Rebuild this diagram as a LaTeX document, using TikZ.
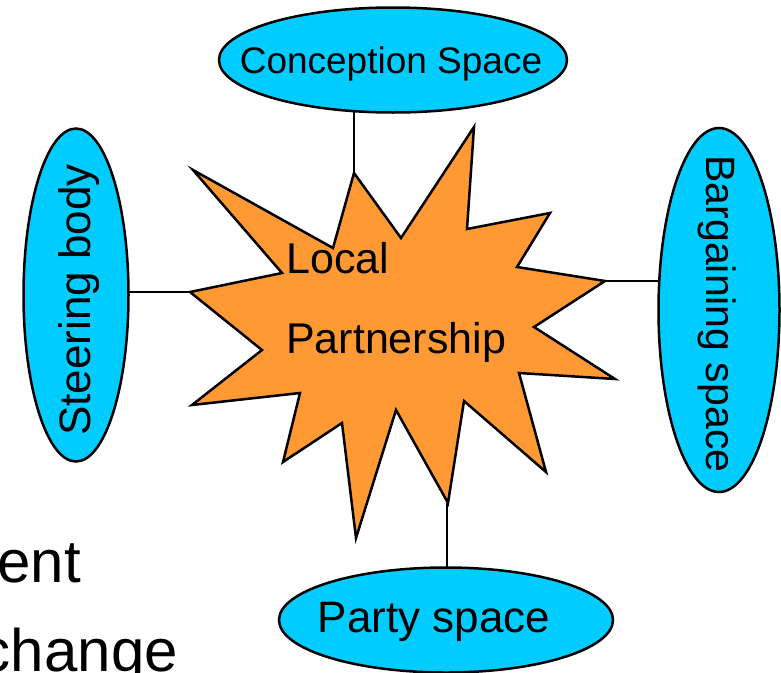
\documentclass[tikz,border=0pt]{standalone}
\usepackage{fontspec}
\setmainfont{Liberation Sans}
\usetikzlibrary{shapes.geometric,backgrounds}
\definecolor{spacecyan}{HTML}{00CCFF}
\definecolor{starorange}{HTML}{FF9933}
\begin{document}
\begin{tikzpicture}[x=1pt,y=-1pt,
  space/.style={ellipse,draw=black,line width=2.5pt,fill=spacecyan,inner sep=0pt},
  starshape/.style={draw=black,line width=2.5pt,fill=starorange,line join=miter},
  link/.style={draw=black,line width=2.6pt},
  bigtxt/.style={inner sep=0pt,text=black}]
\useasboundingbox (0,0) rectangle (781,672);
\clip (0,0) rectangle (781,672);

% spaces
\node[space,minimum width=348pt,minimum height=105pt] (concept) at (393,60) {};
\node[bigtxt,font=\fontsize{37}{44}\selectfont] (conceptT) at (391,64) {Conception Space};
\node[space,minimum width=105pt,minimum height=333pt] (steer) at (76,295) {};
\node[bigtxt,font=\fontsize{44}{52}\selectfont,rotate=90] (steerT) at (79,300) {Steering body};
\node[space,minimum width=121pt,minimum height=364pt] (barg) at (719,310) {};
\node[bigtxt,font=\fontsize{41}{48}\selectfont,rotate=-90] (bargT) at (717,314) {Bargaining space};
\node[space,minimum width=334pt,minimum height=105pt] (party) at (446,620) {};
\node[bigtxt,font=\fontsize{44}{52}\selectfont] (partyT) at (434,622) {Party space};

% star
\path[starshape] (193,170) -- (333,248) -- (354,173) coordinate (tipT) -- (401,238) -- (474,127)
  -- (467,229) -- (550,213) -- (517,267) -- (605,281) coordinate (tipR) -- (534,327)
  -- (615,379) -- (519,373) -- (546,472) -- (464,401) -- (448,503) coordinate (tipB)
  -- (396,410) -- (356,538) -- (342,423) -- (283,462) -- (300,393) -- (192,405)
  -- (262,350) -- (190,292) coordinate (tipL) -- (282,273) -- cycle;

\node[bigtxt,anchor=base west,font=\fontsize{43}{50}\selectfont] (local) at (286,273) {Local};
\node[bigtxt,anchor=base west,font=\fontsize{43}{50}\selectfont] (partner) at (286,353) {Partnership};

% connectors (behind shapes)
\begin{pgfonlayer}{background}
\draw[link] (tipT) -- (tipT |- concept.center);
\draw[link] (tipL) -- (tipL -| steer.center);
\draw[link] (tipR) -- (tipR -| barg.center);
\draw[link] ([xshift=-1pt]tipB) -- ([xshift=-1pt]tipB |- party.center);
\end{pgfonlayer}

% cut-off slide text
\node[bigtxt,anchor=base east,font=\fontsize{60}{70}\selectfont] (ent) at (81,582) {ent};
\node[bigtxt,anchor=base east,font=\fontsize{60}{70}\selectfont] (chg) at (178,671) {change};
\end{tikzpicture}
\end{document}
